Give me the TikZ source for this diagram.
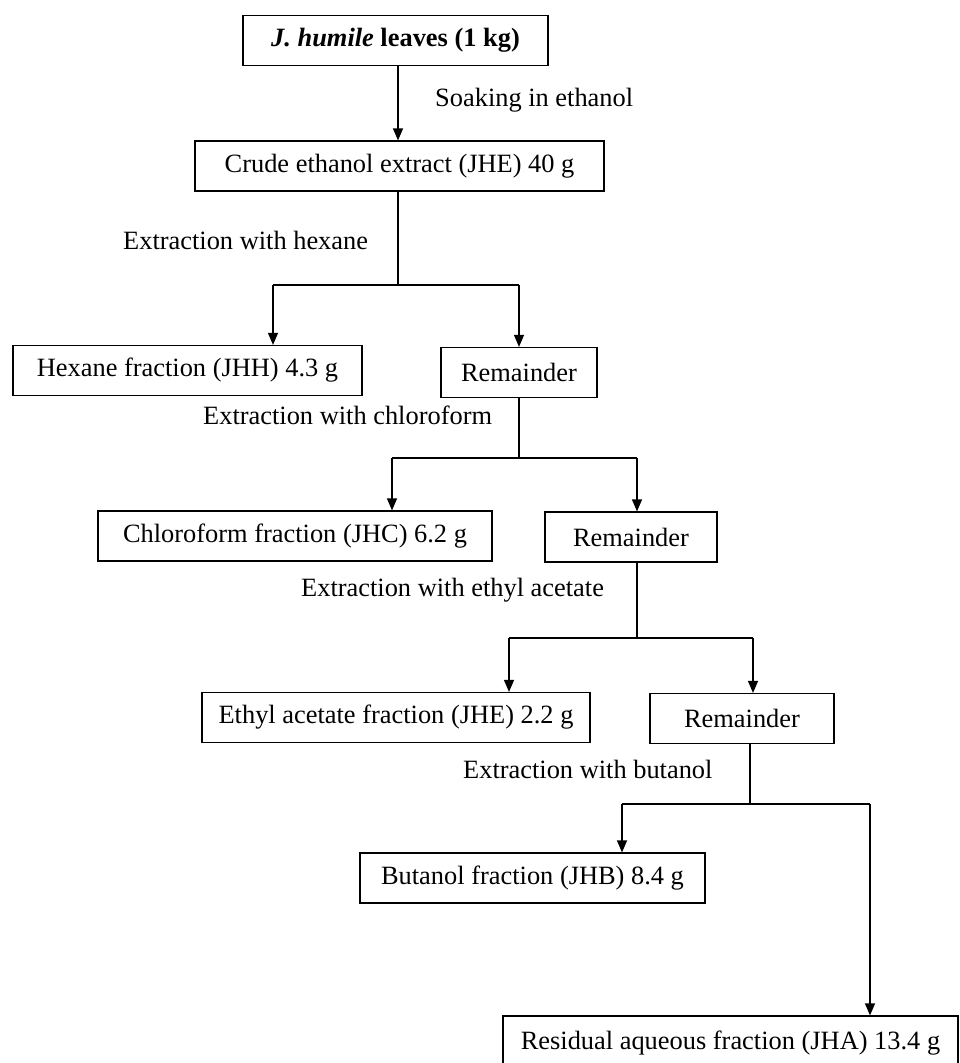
\documentclass[tikz,border=0pt]{standalone}
\usepackage{fontspec}
\setmainfont{Liberation Serif}
\usetikzlibrary{arrows.meta}
\tikzset{
  fbox/.style={draw,line width=1.2pt,minimum height=50pt,inner sep=0pt,font=\fontsize{26.4}{30}\selectfont},
  step label/.style={anchor=west,inner sep=0pt,font=\fontsize{26.4}{30}\selectfont},
  flow/.style={line width=1.2pt,-{Triangle[length=12pt,width=10pt]}},
  link/.style={line width=1.2pt}
}
\begin{document}
\begin{tikzpicture}[x=1pt,y=-1pt]
\useasboundingbox (0,0) rectangle (959,1063);
%boxes
\node[fbox,minimum width=305pt,font=\fontsize{26.4}{30}\selectfont\bfseries] (leaves) at (395.5,40.5){\textit{J. humile} leaves (1 kg)};
\node[fbox,minimum width=409pt] (crude) at (399.5,166){Crude ethanol extract (JHE) 40 g};
\node[fbox,minimum width=349pt] (hexane) at (187.5,370.5){Hexane fraction (JHH) 4.3 g};
\node[fbox,minimum width=156pt] (remA) at (519,372.5){Remainder};
\node[fbox,minimum width=394pt] (chloro) at (295,536){Chloroform fraction (JHC) 6.2 g};
\node[fbox,minimum width=172pt] (remB) at (631,537){Remainder};
\node[fbox,minimum width=388pt] (ethyl) at (396,717.5){Ethyl acetate fraction (JHE) 2.2 g};
\node[fbox,minimum width=184pt] (remC) at (742,718.5){Remainder};
\node[fbox,minimum width=345pt] (butanol) at (532.5,878){Butanol fraction (JHB) 8.4 g};
\node[fbox,minimum width=455pt,minimum height=54pt] (aqueous) at (730.5,1043){Residual aqueous fraction (JHA) 13.4 g};
%split points
\coordinate (s0) at (398,100);
\coordinate (s1) at (398,285);
\coordinate (s2) at (519,458);
\coordinate (s3) at (637,638);
\coordinate (s4) at (750,804);
\coordinate (l1) at (273,285); \coordinate (r1) at (519,285);
\coordinate (l2) at (392,458); \coordinate (r2) at (637,458);
\coordinate (l3) at (509,638); \coordinate (r3) at (753,638);
\coordinate (l4) at (622,804); \coordinate (r4) at (870,804);
%connectors
\draw[flow] (leaves.south -| s0) -- (crude.north -| s0);
\draw[link] (crude.south -| s1) -- (s1);
\draw[link] (l1) -- (r1);
\draw[flow] (l1) -- (hexane.north -| l1);
\draw[flow] (r1) -- (remA.north -| r1);
\draw[link] (remA.south -| s2) -- (s2);
\draw[link] (l2) -- (r2);
\draw[flow] (l2) -- (chloro.north -| l2);
\draw[flow] (r2) -- (remB.north -| r2);
\draw[link] (remB.south -| s3) -- (s3);
\draw[link] (l3) -- (r3);
\draw[flow] (l3) -- (ethyl.north -| l3);
\draw[flow] (r3) -- (remC.north -| r3);
\draw[link] (remC.south -| s4) -- (s4);
\draw[link] (l4) -- (r4);
\draw[flow] (l4) -- (butanol.north -| l4);
\draw[flow] (r4) -- (aqueous.north -| r4);
%labels
\node[step label] (t0) at (435,100){Soaking in ethanol};
\node[step label] (t1) at (123,240){Extraction with hexane};
\node[step label] (t2) at (203,415){Extraction with chloroform};
\node[step label] (t3) at (301,590){Extraction with ethyl acetate};
\node[step label] (t4) at (463,769){Extraction with butanol};
\end{tikzpicture}
\end{document}
